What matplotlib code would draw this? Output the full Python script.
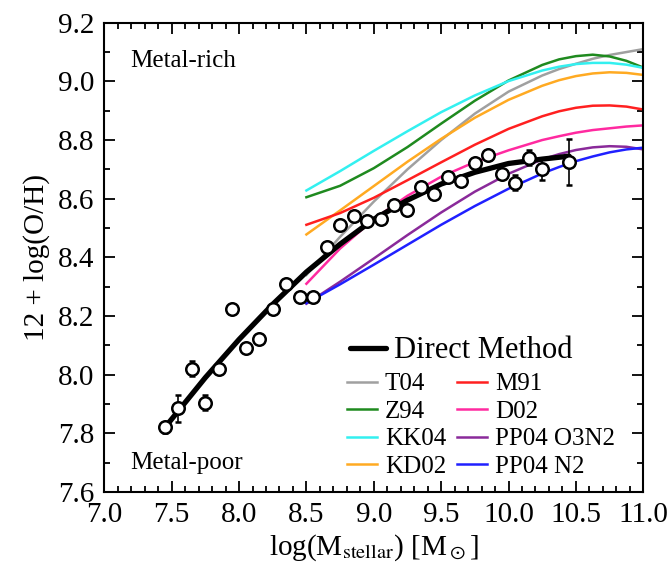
import numpy as np
import matplotlib.pyplot as plt
from matplotlib.ticker import MultipleLocator, FormatStrFormatter

plt.rcParams['font.family'] = ['Liberation Serif', 'DejaVu Serif']
plt.rcParams['mathtext.fontset'] = 'stix'

# stacked direct-method measurements
mass = [7.45, 7.55, 7.65, 7.75, 7.85, 7.95, 8.05, 8.15, 8.25, 8.35,
        8.45, 8.55, 8.65, 8.75, 8.85, 8.95, 9.05, 9.15, 9.25, 9.35,
        9.45, 9.55, 9.65, 9.75, 9.85, 9.95, 10.05, 10.15, 10.25, 10.45]
oh = [7.82, 7.885, 8.02, 7.905, 8.02, 8.225, 8.09, 8.12, 8.225, 8.31,
      8.265, 8.265, 8.435, 8.51, 8.54, 8.525, 8.53, 8.58, 8.56, 8.64,
      8.615, 8.675, 8.66, 8.72, 8.75, 8.685, 8.655, 8.74, 8.70, 8.725]
oh_err = [0.02, 0.045, 0.025, 0.025, 0.01, 0.01, 0.01, 0.01, 0.01, 0.01,
          0.01, 0.01, 0.01, 0.01, 0.01, 0.01, 0.01, 0.01, 0.01, 0.01,
          0.01, 0.01, 0.01, 0.015, 0.015, 0.015, 0.025, 0.025, 0.035, 0.08]

# direct method fit
fit_mass = [7.45, 7.6, 7.75, 8.0, 8.25, 8.5, 8.75, 9.0, 9.25, 9.5, 9.75, 10.0, 10.25, 10.45]
fit_oh = [7.82, 7.905, 7.99, 8.12, 8.24, 8.35, 8.445, 8.53, 8.595, 8.65, 8.69, 8.72, 8.735, 8.745]

# strong-line calibrations
cal_mass = [8.5, 8.75, 9.0, 9.25, 9.5, 9.75, 10.0, 10.25, 10.375, 10.5, 10.625, 10.75, 10.875, 11.0]
t04 = [8.34, 8.47, 8.59, 8.70, 8.80, 8.89, 8.965, 9.02, 9.042, 9.06, 9.077, 9.09, 9.10, 9.11]
z94 = [8.605, 8.644, 8.704, 8.776, 8.856, 8.934, 9.003, 9.056, 9.075, 9.086, 9.091, 9.085, 9.070, 9.047]
kk04 = [8.628, 8.694, 8.763, 8.830, 8.895, 8.952, 9.001, 9.037, 9.050, 9.059, 9.063, 9.063, 9.057, 9.046]
kd02 = [8.478, 8.560, 8.643, 8.726, 8.804, 8.876, 8.937, 8.985, 9.004, 9.018, 9.027, 9.031, 9.029, 9.022]
m91 = [8.511, 8.551, 8.603, 8.663, 8.724, 8.784, 8.838, 8.881, 8.898, 8.910, 8.917, 8.918, 8.914, 8.904]
d02 = [8.31, 8.43, 8.53, 8.61, 8.675, 8.725, 8.765, 8.80, 8.813, 8.825, 8.834, 8.84, 8.846, 8.85]
pp04_o3n2 = [8.242, 8.317, 8.396, 8.476, 8.553, 8.624, 8.685, 8.734, 8.752, 8.766, 8.775, 8.779, 8.777, 8.768]
pp04_n2 = [8.244, 8.308, 8.375, 8.443, 8.511, 8.575, 8.634, 8.686, 8.708, 8.728, 8.744, 8.758, 8.768, 8.774]

calibrations = [
    ('T04', t04, '#a0a0a0'),
    ('Z94', z94, '#1f8a1f'),
    ('KK04', kk04, '#33f0f0'),
    ('KD02', kd02, '#ffaa22'),
    ('M91', m91, '#ff2020'),
    ('D02', d02, '#ff2aa0'),
    ('PP04 O3N2', pp04_o3n2, '#8a2a9a'),
    ('PP04 N2', pp04_n2, '#2020ff'),
]

fig = plt.figure(figsize=(6.71, 5.65), dpi=100)
ax = fig.add_axes([0.1554, 0.1292, 0.8033, 0.8306])

handles = []
for label, vals, color in calibrations:
    line, = ax.plot(cal_mass, vals, color=color, lw=1.8, label=label, zorder=2)
    handles.append(line)

direct, = ax.plot(fit_mass, fit_oh, color='black', lw=3.8, zorder=3,
                  solid_capstyle='round', label='Direct Method')
ax.errorbar(mass, oh, yerr=oh_err, fmt='o', ms=9, mfc='white', mec='black',
            mew=1.8, ecolor='black', elinewidth=1.2, capsize=2.5, capthick=1.2,
            zorder=4)

ax.set_xlim(7.0, 11.0)
ax.set_ylim(7.6, 9.2)
ax.xaxis.set_major_locator(MultipleLocator(0.5))
ax.xaxis.set_minor_locator(MultipleLocator(0.1))
ax.yaxis.set_major_locator(MultipleLocator(0.2))
ax.yaxis.set_minor_locator(MultipleLocator(0.1))
ax.xaxis.set_major_formatter(FormatStrFormatter('%.1f'))
ax.yaxis.set_major_formatter(FormatStrFormatter('%.1f'))
ax.tick_params(which='both', direction='in', top=True, right=True, width=1.3)
ax.tick_params(which='major', length=8, labelsize=21, pad=7)
ax.tick_params(which='minor', length=4)
for sp in ax.spines.values():
    sp.set_linewidth(1.5)

ax.set_xlabel(r'log(M$_{\mathrm{stellar}}$) [M$_\odot$]', fontsize=21, labelpad=3)
ax.set_ylabel('12 + log(O/H)', fontsize=21, labelpad=6)

ax.text(7.19, 9.07, 'Metal-rich', fontsize=18, va='center', ha='left')
ax.text(7.19, 7.70, 'Metal-poor', fontsize=18, va='center', ha='left')

leg1 = ax.legend([direct], ['Direct Method'], loc='upper left',
                 bbox_to_anchor=(0.455, 0.332), frameon=False, fontsize=22,
                 handlelength=1.2, handletextpad=0.25, borderpad=0, borderaxespad=0)
ax.add_artist(leg1)
ax.legend(handles, [c[0] for c in calibrations], ncol=2, loc='upper left',
          bbox_to_anchor=(0.451, 0.254), frameon=False, fontsize=18,
          handlelength=1.2, handletextpad=0.3, columnspacing=0.45,
          labelspacing=0.2, borderpad=0, borderaxespad=0)

fig.savefig('out.png', dpi=100)
